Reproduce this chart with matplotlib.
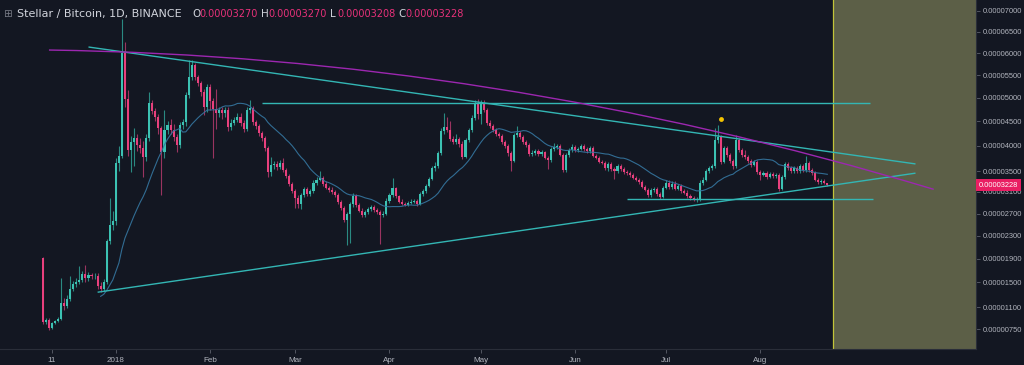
import numpy as np
import pandas as pd
import matplotlib
matplotlib.use("Agg")
import matplotlib.pyplot as plt
import matplotlib.dates as mdates
from matplotlib.path import Path
from matplotlib.patches import PathPatch

# ---------------- data (prices in units of 1e-6 BTC) ----------------
start_date = "2017-12-08"

opens = [
    19.1, 8.6, 8.9, 7.7, 8.5, 8.8, 9.1, 11.7, 11.2, 12.3,
    14.0, 14.7, 15.1, 15.4, 16.4, 15.7, 16.2, 16.0, 16.1, 14.4,
    13.9, 15.0, 22.0, 24.9, 25.6, 36.6, 38.0, 59.9, 49.7, 39.1,
    40.8, 41.6, 40.1, 39.5, 37.8, 41.6, 48.9, 47.2, 45.9, 43.6,
    38.7, 43.2, 44.2, 43.2, 41.8, 40.1, 44.2, 44.8, 50.6, 54.6,
    57.2, 54.6, 53.3, 51.3, 48.0, 52.3, 49.4, 47.6, 46.8, 47.4,
    46.8, 47.5, 43.8, 44.7, 45.3, 46.0, 44.7, 43.4, 47.4, 47.8,
    44.9, 44.0, 42.7, 41.6, 39.6, 34.8, 36.2, 36.4, 35.8, 36.6,
    35.2, 34.0, 32.5, 31.2, 29.8, 28.8, 30.4, 31.6, 30.6, 31.2,
    32.8, 33.3, 33.7, 32.6, 31.7, 31.4, 31.0, 30.4, 29.1, 28.0,
    25.9, 26.9, 28.8, 30.3, 28.6, 27.5, 26.8, 27.3, 27.8, 28.2,
    27.6, 27.2, 26.7, 27.0, 29.4, 30.4, 31.7, 30.2, 29.2, 28.8,
    28.6, 29.0, 29.2, 29.3, 28.8, 30.6, 31.2, 32.2, 33.5, 35.6,
    35.9, 38.5, 43.0, 43.8, 43.2, 41.4, 40.8, 41.3, 40.4, 37.8,
    41.2, 43.2, 45.8, 48.9, 46.5, 48.9, 47.4, 44.7, 44.0, 43.2,
    42.4, 42.0, 40.8, 40.0, 38.5, 37.0, 42.2, 42.7, 41.8, 40.8,
    40.2, 38.3, 38.6, 38.9, 38.3, 38.7, 37.6, 37.1, 39.4, 39.8,
    39.9, 38.2, 35.2, 38.1, 39.1, 39.8, 39.1, 39.4, 39.9, 39.3,
    38.9, 39.5, 38.0, 37.6, 36.8, 36.6, 35.6, 36.4, 35.4, 35.0,
    36.0, 35.4, 34.8, 34.6, 34.2, 33.7, 33.3, 32.9, 32.0, 31.4,
    30.4, 31.4, 31.6, 30.6, 30.0, 31.8, 32.8, 31.9, 32.6, 31.6,
    32.2, 31.1, 30.9, 30.2, 29.8, 29.5, 29.6, 32.8, 33.3, 35.0,
    35.6, 36.0, 41.2, 41.8, 36.8, 39.5, 38.1, 37.0, 36.0, 41.2,
    39.1, 38.1, 37.7, 37.0, 36.2, 36.8, 34.8, 34.3, 34.6, 33.9,
    34.4, 34.0, 34.3, 31.6, 33.8, 36.4, 35.6, 35.0, 35.6, 35.0,
    36.0, 35.2, 36.6, 35.2, 34.6, 33.3, 32.9, 33.1, 32.70,
]

highs = [
    19.3, 9.3, 9.2, 8.7, 9.0, 9.4, 15.8, 12.5, 13.0, 16.0,
    15.2, 15.8, 17.8, 17.0, 18.0, 16.8, 16.6, 16.5, 16.5, 15.0,
    15.5, 22.5, 29.8, 27.5, 37.5, 40.0, 68.0, 62.5, 51.7, 42.0,
    43.6, 42.5, 41.6, 41.0, 42.5, 51.2, 49.5, 47.8, 46.5, 44.0,
    47.5, 45.0, 45.5, 44.5, 42.5, 44.8, 45.5, 51.2, 58.4, 58.4,
    57.8, 55.0, 53.8, 52.0, 53.0, 53.0, 50.0, 52.0, 48.0, 48.0,
    48.0, 48.0, 45.5, 46.0, 46.8, 46.8, 45.2, 48.0, 49.5, 48.3,
    45.3, 44.5, 43.0, 42.0, 40.0, 37.8, 37.0, 37.0, 37.2, 37.5,
    35.6, 34.4, 32.9, 31.5, 30.5, 30.8, 32.0, 32.0, 31.6, 33.2,
    33.8, 35.0, 34.0, 33.0, 32.2, 31.9, 31.4, 30.8, 29.5, 28.4,
    27.3, 29.2, 30.8, 30.6, 29.0, 28.0, 27.6, 28.2, 28.6, 28.5,
    28.0, 27.6, 27.4, 29.8, 30.8, 33.6, 32.0, 30.5, 29.6, 29.2,
    29.3, 29.6, 29.7, 29.6, 31.0, 31.6, 32.6, 33.9, 36.0, 36.8,
    39.0, 43.6, 46.8, 46.0, 45.0, 42.0, 42.5, 41.8, 41.0, 41.6,
    43.6, 46.3, 49.5, 49.8, 49.5, 49.5, 47.8, 45.2, 44.5, 43.6,
    42.8, 42.4, 41.2, 40.4, 38.9, 42.6, 44.0, 43.1, 42.2, 41.2,
    40.6, 39.2, 39.4, 39.3, 39.2, 39.0, 38.0, 39.8, 40.6, 40.4,
    40.3, 38.6, 38.5, 39.5, 40.3, 40.2, 39.8, 40.4, 40.4, 39.7,
    39.9, 39.9, 38.4, 38.0, 37.2, 37.0, 36.8, 36.8, 35.8, 36.4,
    36.4, 35.8, 35.2, 35.0, 34.6, 34.1, 33.7, 33.3, 32.4, 31.8,
    31.8, 32.0, 32.0, 31.0, 32.2, 33.2, 33.2, 33.0, 33.0, 32.6,
    32.6, 31.5, 31.3, 30.6, 30.2, 30.0, 33.2, 33.8, 35.4, 36.0,
    36.4, 43.6, 44.2, 42.3, 40.0, 40.0, 38.5, 37.4, 42.3, 41.6,
    39.5, 39.2, 38.1, 37.4, 37.2, 37.2, 35.2, 35.0, 35.0, 34.8,
    34.8, 34.7, 34.6, 34.2, 36.8, 36.8, 36.0, 36.0, 36.0, 36.4,
    36.4, 38.0, 37.0, 35.6, 35.0, 33.7, 33.5, 33.4, 32.70,
]

lows = [
    8.3, 8.4, 7.4, 7.5, 8.3, 8.6, 8.9, 10.5, 10.8, 12.0,
    13.6, 14.3, 14.8, 15.1, 15.0, 15.3, 15.6, 15.5, 14.0, 13.4,
    13.6, 14.8, 21.5, 24.0, 25.0, 35.0, 37.5, 48.0, 38.0, 34.8,
    36.0, 39.0, 38.5, 33.8, 37.0, 41.0, 46.5, 45.0, 42.5, 30.4,
    37.5, 42.5, 42.5, 41.0, 38.7, 39.5, 43.5, 44.0, 50.0, 54.0,
    54.0, 52.5, 50.5, 46.3, 47.0, 47.5, 37.6, 43.5, 46.0, 45.5,
    46.0, 43.0, 43.2, 44.3, 44.8, 44.0, 42.8, 43.0, 46.8, 44.3,
    43.5, 42.0, 41.0, 39.0, 33.8, 34.0, 35.5, 35.3, 35.4, 34.8,
    33.6, 32.2, 30.8, 28.0, 28.0, 27.8, 30.0, 30.2, 30.2, 30.8,
    32.4, 33.0, 32.2, 31.5, 31.0, 30.7, 30.0, 28.8, 27.7, 25.5,
    21.3, 21.8, 28.2, 28.2, 27.2, 26.4, 26.4, 27.0, 27.4, 27.2,
    26.9, 21.5, 26.3, 26.8, 29.0, 30.0, 29.9, 28.9, 28.5, 28.3,
    28.3, 28.7, 28.9, 28.4, 28.6, 30.2, 30.9, 31.9, 33.2, 35.0,
    35.6, 38.2, 42.5, 42.8, 41.0, 40.3, 40.3, 39.8, 37.4, 37.5,
    40.8, 42.9, 45.4, 45.5, 44.5, 47.0, 44.2, 43.6, 42.8, 42.0,
    41.6, 40.4, 39.6, 38.0, 35.0, 36.7, 41.8, 41.4, 40.4, 39.8,
    37.9, 37.9, 38.2, 37.9, 38.0, 37.3, 35.5, 36.8, 39.0, 39.4,
    37.9, 34.8, 34.9, 37.8, 38.8, 38.8, 38.8, 39.1, 39.0, 38.6,
    38.6, 37.7, 37.3, 36.5, 36.3, 35.3, 35.0, 35.1, 33.4, 34.7,
    35.1, 34.5, 34.3, 33.9, 33.4, 33.0, 32.6, 31.7, 31.1, 30.1,
    30.1, 31.0, 30.3, 29.6, 29.8, 31.5, 31.6, 31.6, 31.3, 31.3,
    30.8, 30.6, 29.9, 29.5, 29.3, 29.2, 29.4, 32.4, 33.0, 34.6,
    35.2, 35.7, 40.6, 36.4, 36.5, 37.7, 36.6, 35.5, 35.7, 38.7,
    37.7, 37.3, 36.6, 35.8, 35.9, 34.4, 33.3, 34.0, 33.5, 33.6,
    33.6, 33.7, 31.2, 31.3, 33.5, 35.2, 34.7, 34.7, 34.7, 34.7,
    34.9, 34.9, 34.9, 34.3, 33.0, 32.6, 32.6, 32.5, 32.08,
]

closes = [
    8.6, 8.9, 7.7, 8.5, 8.8, 9.1, 11.7, 11.2, 12.3, 14.0,
    14.7, 15.1, 15.4, 16.4, 15.7, 16.2, 16.0, 16.1, 14.4, 13.9,
    15.0, 22.0, 24.9, 25.6, 36.6, 38.0, 59.9, 49.7, 39.1, 40.8,
    41.6, 40.1, 39.5, 37.8, 41.6, 48.9, 47.2, 45.9, 43.6, 38.7,
    43.2, 44.2, 43.2, 41.8, 40.1, 44.2, 44.8, 50.6, 54.6, 57.2,
    54.6, 53.3, 51.3, 48.0, 52.3, 49.4, 47.6, 46.8, 47.4, 46.8,
    47.5, 43.8, 44.7, 45.3, 46.0, 44.7, 43.4, 47.4, 47.8, 44.9,
    44.0, 42.7, 41.6, 39.6, 34.8, 36.2, 36.4, 35.8, 36.6, 35.2,
    34.0, 32.5, 31.2, 29.8, 28.8, 30.4, 31.6, 30.6, 31.2, 32.8,
    33.3, 33.7, 32.6, 31.7, 31.4, 31.0, 30.4, 29.1, 28.0, 25.9,
    26.9, 28.8, 30.3, 28.6, 27.5, 26.8, 27.3, 27.8, 28.2, 27.6,
    27.2, 26.7, 27.0, 29.4, 30.4, 31.7, 30.2, 29.2, 28.8, 28.6,
    29.0, 29.2, 29.3, 28.8, 30.6, 31.2, 32.2, 33.5, 35.6, 35.9,
    38.5, 43.0, 43.8, 43.2, 41.4, 40.8, 41.3, 40.4, 37.8, 41.2,
    43.2, 45.8, 48.9, 46.5, 48.9, 47.4, 44.7, 44.0, 43.2, 42.4,
    42.0, 40.8, 40.0, 38.5, 37.0, 42.2, 42.7, 41.8, 40.8, 40.2,
    38.3, 38.6, 38.9, 38.3, 38.7, 37.6, 37.1, 39.4, 39.8, 39.9,
    38.2, 35.2, 38.1, 39.1, 39.8, 39.1, 39.4, 39.9, 39.3, 38.9,
    39.5, 38.0, 37.6, 36.8, 36.6, 35.6, 36.4, 35.4, 35.0, 36.0,
    35.4, 34.8, 34.6, 34.2, 33.7, 33.3, 32.9, 32.0, 31.4, 30.4,
    31.4, 31.6, 30.6, 30.0, 31.8, 32.8, 31.9, 32.6, 31.6, 32.2,
    31.1, 30.9, 30.2, 29.8, 29.5, 29.6, 32.8, 33.3, 35.0, 35.6,
    36.0, 41.2, 41.8, 36.8, 39.5, 38.1, 37.0, 36.0, 41.2, 39.1,
    38.1, 37.7, 37.0, 36.2, 36.8, 34.8, 34.3, 34.6, 33.9, 34.4,
    34.0, 34.3, 31.6, 33.8, 36.4, 35.6, 35.0, 35.6, 35.0, 36.0,
    35.2, 36.6, 35.2, 34.6, 33.3, 32.9, 33.1, 32.70, 32.28,
]

# drawing-tool anchors: (date, price in 1e-6 BTC)
upper_trend = [("2017-12-23", 61.4), ("2018-09-21", 36.4)]
lower_trend = [("2017-12-26", 13.4), ("2018-09-21", 34.6)]
resistance = [("2018-02-18", 48.9), ("2018-09-06", 48.9)]
support = [("2018-06-18", 29.6), ("2018-09-07", 29.6)]
arc_points = [("2017-12-10", 60.7), ("2018-05-04 12:00", 59.3), ("2018-09-27", 31.5)]
marker_point = ("2018-07-19", 45.5)
shade_start = "2018-08-25"

price_ticks = [7.5, 11, 15, 19, 23, 27, 31, 35, 40, 45, 50, 55, 60, 65, 70]
time_tick_dates = ["2017-12-11", "2018-01-01", "2018-02-01", "2018-03-01", "2018-04-01",
                   "2018-05-01", "2018-06-01", "2018-07-01", "2018-08-01"]
time_tick_labels = ["11", "2018", "Feb", "Mar", "Apr", "May", "Jun", "Jul", "Aug"]

# ---------------- styling ----------------
BG = "#131722"
UP = "#3cc2b3"
DOWN = "#e8407d"
UP_WICK = "#2a8a82"
DOWN_WICK = "#9a3460"
CYAN = "#33b6b4"
MAGENTA = "#9c27b0"
TEXT = "#b2b5be"
AXFONT = "Liberation Sans"
SCALE = 1e-6

def d2n(s):
    return mdates.date2num(pd.Timestamp(s))

fig = plt.figure(figsize=(10.24, 3.65), dpi=100, facecolor=BG)
ax = fig.add_axes([0, 16 / 365, 976 / 1024, 349 / 365], facecolor=BG)

# custom price scale that reproduces the chart's compressed spacing
offset = 100e-6
ax.set_yscale("function", functions=(lambda p: np.log(np.asarray(p) + offset),
                                      lambda v: np.exp(np.asarray(v)) - offset))

dates = pd.date_range(start_date, periods=len(closes), freq="D")
xs = mdates.date2num(dates)
o = np.array(opens) * SCALE
h = np.array(highs) * SCALE
l = np.array(lows) * SCALE
c = np.array(closes) * SCALE
up = c >= o

x0 = d2n(start_date)
ax.set_xlim(x0 - 14.1, x0 + 306.9)
ax.set_ylim(4.5e-6, 72.7e-6)

# future shaded region
ax.axvspan(d2n(shade_start), x0 + 400, color="#5c5f47", zorder=0.5, lw=0)
ax.axvline(d2n(shade_start), color="#c2c43a", lw=0.9, zorder=0.6)

# candles
ax.vlines(xs, l, h, colors=np.where(up, UP_WICK, DOWN_WICK), lw=0.8, zorder=2)
ax.bar(xs, c - o, bottom=o, width=0.68, color=np.where(up, UP, DOWN), lw=0, zorder=3)

# moving average (20)
ma = pd.Series(c).rolling(20).mean()
ax.plot(xs, ma, color="#3576a0", lw=0.8, alpha=0.9, zorder=4)

# drawings
for seg in (upper_trend, lower_trend, resistance, support):
    ax.plot([d2n(s[0]) for s in seg], [s[1] * SCALE for s in seg], color=CYAN, lw=1.0,
            zorder=5, solid_capstyle="butt")

arc_path = Path([(d2n(d), p * SCALE) for d, p in arc_points],
                [Path.MOVETO, Path.CURVE3, Path.CURVE3])
ax.add_patch(PathPatch(arc_path, fill=False, ec=MAGENTA, lw=1.0, zorder=5,
                       transform=ax.transData))

ax.plot([d2n(marker_point[0])], [marker_point[1] * SCALE], "o", color="#f5c400",
        ms=3.5, mec="none", zorder=6)

# axes styling
for side in ("top", "left"):
    ax.spines[side].set_visible(False)
ax.spines["bottom"].set_color("#2a2e39")
ax.spines["right"].set_color("#2a2e39")

ax.yaxis.tick_right()
ax.set_yticks([t * SCALE for t in price_ticks])
ax.set_yticklabels(["%.8f" % (t * SCALE) for t in price_ticks])
ax.yaxis.set_minor_locator(matplotlib.ticker.NullLocator())
ax.tick_params(axis="y", colors="#5d606b", labelcolor=TEXT, labelsize=5.4, length=3,
               pad=2, width=0.6)

ax.set_xticks([d2n(d) for d in time_tick_dates])
ax.set_xticklabels(time_tick_labels)
ax.xaxis.set_minor_locator(matplotlib.ticker.NullLocator())
ax.tick_params(axis="x", colors="#5d606b", labelcolor=TEXT, labelsize=5.8, length=3,
               pad=3, width=0.6)
for lab in ax.get_yticklabels() + ax.get_xticklabels():
    lab.set_fontfamily(AXFONT)

# last price label
ax.annotate("%.8f" % c[-1], xy=(1.0, c[-1]), xycoords=("axes fraction", "data"),
            xytext=(2.0, 0), textcoords="offset points", ha="left", va="center",
            fontsize=5.4, color="white", family=AXFONT, annotation_clip=False, zorder=10,
            bbox=dict(boxstyle="square,pad=0.35", fc="#e91e63", ec="none"))

# header
ty = 1 - 14 / 365
fig.text(3 / 1024, ty, "\u229e", color="#787b86", fontsize=7.5, va="center",
         family="DejaVu Sans")
fig.text(17 / 1024, ty, "Stellar / Bitcoin, 1D, BINANCE", color="#d1d4dc", fontsize=8.0,
         va="center", family="DejaVu Sans")
header_vals = [("O", o[-1], 192), ("H", h[-1], 261), ("L", l[-1], 330), ("C", c[-1], 398)]
for key, val, px in header_vals:
    fig.text(px / 1024, ty, key, color="#d1d4dc", fontsize=7.4, va="center",
             family="DejaVu Sans")
    fig.text((px + 7) / 1024, ty, "%.8f" % val, color="#e8317a", fontsize=7.0,
             va="center", family="DejaVu Sans")

fig.savefig("out.png", dpi=100, facecolor=BG)
